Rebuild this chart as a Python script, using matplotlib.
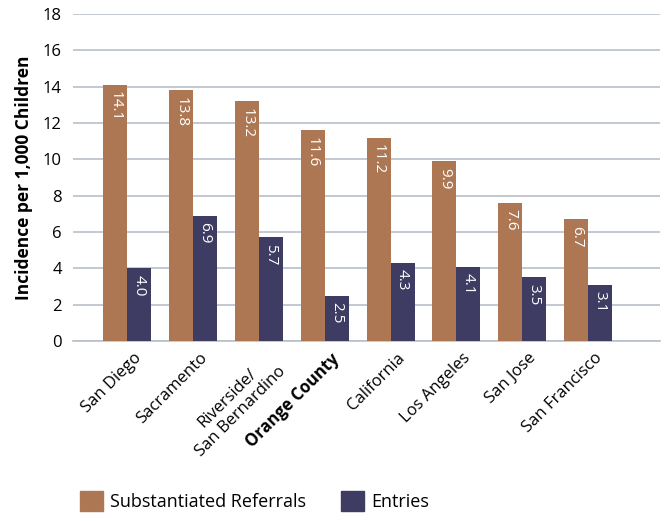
import numpy as np
import matplotlib
matplotlib.use("Agg")
import matplotlib.pyplot as plt
import matplotlib.transforms as mtrans
from matplotlib.patches import Patch

places = ["San Diego", "Sacramento", "Riverside/\nSan Bernardino", "Orange County",
          "California", "Los Angeles", "San Jose", "San Francisco"]
referrals = [14.1, 13.8, 13.2, 11.6, 11.2, 9.9, 7.6, 6.7]
entries = [4.0, 6.9, 5.7, 2.5, 4.3, 4.1, 3.5, 3.1]

ORANGE = "#ad7753"
NAVY = "#3f3c63"
GRID = "#b9c0cc"

plt.rcParams["font.family"] = ["Open Sans", "DejaVu Sans"]

fig = plt.figure(figsize=(6.67, 5.21), dpi=100)
ax = fig.add_axes([0.1094, 0.3455, 0.8801, 0.6275])

x = np.arange(len(places))
w = 0.364
b1 = ax.bar(x - w / 2, referrals, w, color=ORANGE, zorder=3)
b2 = ax.bar(x + w / 2, entries, w, color=NAVY, zorder=3)

for bars, vals in ((b1, referrals), (b2, entries)):
    for r, v in zip(bars, vals):
        ax.text(r.get_x() + r.get_width() / 2, v - 0.35, f"{v:.1f}", rotation=-90,
                ha="center", va="top", color="white", fontsize=11, zorder=4)

ax.set_ylim(0, 18)
ax.set_xlim(-0.82, 8.09)
ax.set_yticks(range(0, 19, 2))
ax.yaxis.grid(True, color=GRID, linewidth=1.2, zorder=0)
ax.tick_params(axis="y", length=0, labelsize=12, pad=8)
for s in ("top", "right", "left"):
    ax.spines[s].set_visible(False)
ax.spines["bottom"].set_color(GRID)
ax.spines["bottom"].set_linewidth(1.2)

# category labels, nudged right/down like the original
ax.set_xticks(x)
ax.set_xticklabels([])
ax.tick_params(axis="x", length=0)
shift = mtrans.offset_copy(ax.get_xaxis_transform(), fig=fig, x=6, y=-9, units="dots")
for i, name in enumerate(places):
    ax.text(x[i], 0, name, transform=shift, rotation=45, ha="right", va="top",
            rotation_mode="anchor", fontsize=12, multialignment="center",
            fontweight="bold" if name == "Orange County" else "normal")

ax.set_ylabel("Incidence per 1,000 Children", fontsize=12.5, fontweight="bold", labelpad=7)

handles = [Patch(color=ORANGE), Patch(color=NAVY)]
fig.legend(handles, ["Substantiated Referrals", "Entries"], loc="lower left",
           bbox_to_anchor=(0.095, -0.012), ncol=2, frameon=False, fontsize=13,
           handlelength=1.3, handleheight=1.3, columnspacing=1.9, handletextpad=0.4)

fig.savefig("out.png", dpi=100)
